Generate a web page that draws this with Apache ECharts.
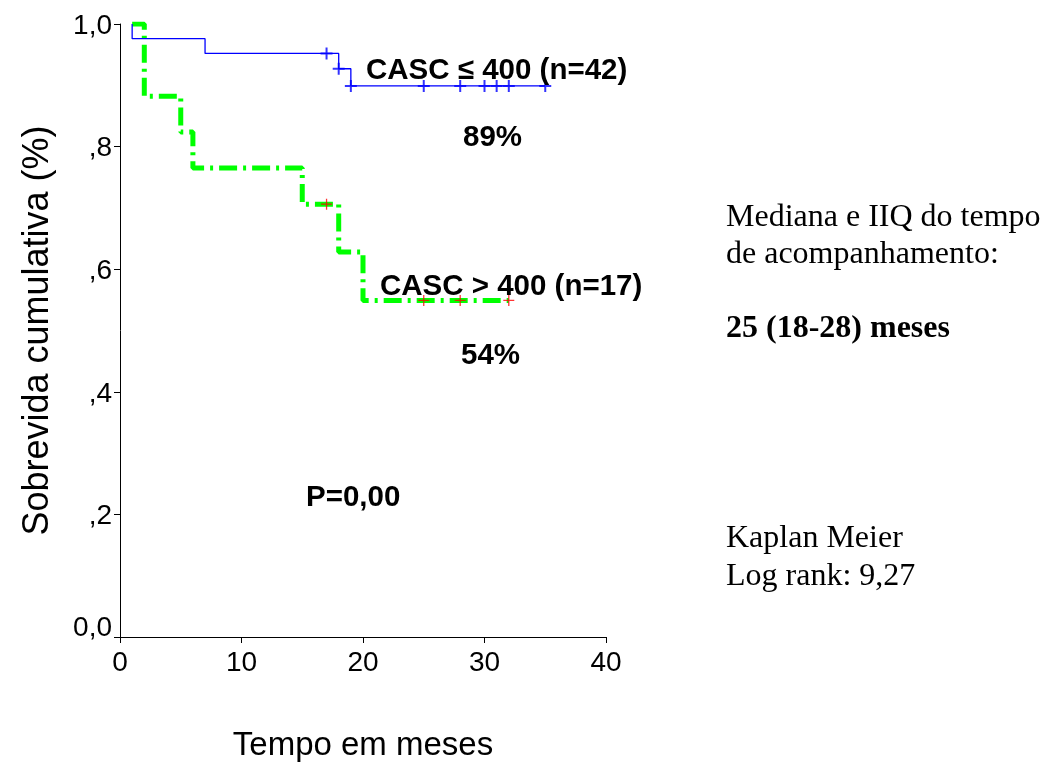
<!DOCTYPE html>
<html>
<head>
<meta charset="utf-8">
<script src="https://cdn.jsdelivr.net/npm/echarts@6/dist/echarts.min.js"></script>
<style>
html,body{margin:0;padding:0;background:#fff;}
#chart{width:1061px;height:767px;}
</style>
</head>
<body>
<div id="chart"></div>
<script>
// ---- data ----
const blueTimes = [1, 1, 7, 18, 19, 35];
const blueSurv  = [1.0, 0.976, 0.952, 0.927, 0.899, 0.899];
const blueCensTimes = [17, 18, 19, 25, 28, 30, 31, 32, 35];
const blueCensSurv  = [0.952, 0.927, 0.899, 0.899, 0.899, 0.899, 0.899, 0.899, 0.899];

const greenTimes = [1, 2, 5, 6, 15, 18, 20, 32];
const greenSurv  = [1.0, 0.882, 0.824, 0.765, 0.706, 0.628, 0.549, 0.549];
const greenCensTimes = [17, 25, 28, 32];
const greenCensSurv  = [0.706, 0.549, 0.549, 0.549];

const xTicks = [0, 10, 20, 30, 40];
const yTickLabels = {0: '0,0', 2: ',2', 4: ',4', 6: ',6', 8: ',8', 10: '1,0'};

const labelBlue = 'CASC ≤ 400 (n=42)';
const labelGreen = 'CASC > 400 (n=17)';
const pctBlue = '89%';
const pctGreen = '54%';
const pText = 'P=0,00';
const sideTexts = ['Mediana e IIQ do tempo', 'de acompanhamento:', '25 (18-28) meses', 'Kaplan Meier', 'Log rank: 9,27'];

const pairs = (t, s) => t.map((v, i) => [v, s[i]]);

const plusThick = 'path://M5,0 H7 V5 H12 V7 H7 V12 H5 V7 H0 V5 H5 Z';
const plusThin  = 'path://M5.3,0 H6.7 V5.3 H12 V6.7 H6.7 V12 H5.3 V6.7 H0 V5.3 H5.3 Z';

const chart = echarts.init(document.getElementById('chart'), null, {renderer: 'canvas'});

const arialBold = {fontFamily: 'Liberation Sans, Arial, sans-serif', fontWeight: 'bold', fontSize: 29.5, fill: '#000'};
const serif = {fontFamily: 'Liberation Serif, Times New Roman, serif', fontSize: 32, fill: '#000'};

chart.setOption({
  animation: false,
  backgroundColor: '#fff',
  grid: {left: 120, right: 455, top: 24, bottom: 129, containLabel: false},
  xAxis: {
    type: 'value', min: 0, max: 40, interval: 10,
    name: 'Tempo em meses', nameLocation: 'middle', nameGap: 92,
    nameTextStyle: {fontFamily: 'Liberation Sans, Arial, sans-serif', fontSize: 33, color: '#000'},
    axisLine: {show: true, lineStyle: {color: '#000', width: 1}},
    axisTick: {show: true, length: 6, lineStyle: {color: '#000'}},
    axisLabel: {fontFamily: 'Liberation Sans, Arial, sans-serif', fontSize: 28, color: '#000', margin: 12,
      formatter: v => xTicks.includes(v) ? String(v) : ''},
    splitLine: {show: false}
  },
  yAxis: {
    type: 'value', min: 0, max: 1, interval: 0.2,
    name: 'Sobrevida cumulativa (%)', nameLocation: 'middle', nameGap: 64, nameRotate: 90,
    nameTextStyle: {fontFamily: 'Liberation Sans, Arial, sans-serif', fontSize: 36, color: '#000'},
    axisLine: {show: true, lineStyle: {color: '#000', width: 1}},
    axisTick: {show: true, length: 6, lineStyle: {color: '#000'}},
    axisLabel: {fontFamily: 'Liberation Sans, Arial, sans-serif', fontSize: 28, color: '#000', margin: 8,
      formatter: v => {
        const k = Math.round(v * 10);
        return k === 0 ? '{z|' + yTickLabels[0] + '}' : '{n|' + yTickLabels[k] + '}';
      },
      rich: {
        z: {fontFamily: 'Liberation Sans, Arial, sans-serif', fontSize: 28, color: '#000', padding: [0, 0, 18, 0]},
        n: {fontFamily: 'Liberation Sans, Arial, sans-serif', fontSize: 28, color: '#000', padding: [4, 0, 0, 0]}
      }
    },
    splitLine: {show: false}
  },
  series: [
    {
      type: 'line', step: 'end', data: pairs(greenTimes, greenSurv), symbol: 'none', z: 2,
      lineStyle: {color: '#00ff00', width: 5, type: [18, 6, 3, 6], cap: 'butt'}
    },
    {
      type: 'line', step: 'end', data: pairs(blueTimes, blueSurv), symbol: 'none', z: 3,
      lineStyle: {color: '#0000ff', width: 1.3}
    },
    {
      type: 'scatter', data: pairs(greenCensTimes, greenCensSurv), symbol: plusThin, symbolSize: 11, z: 4,
      itemStyle: {color: '#ff0000'}
    },
    {
      type: 'scatter', data: pairs(blueCensTimes, blueCensSurv), symbol: plusThick, symbolSize: 12, z: 5,
      itemStyle: {color: '#0000ff'}
    }
  ],
  graphic: [
    {type: 'text', left: 366, top: 56, z: 10, style: Object.assign({text: labelBlue}, arialBold)},
    {type: 'text', left: 463, top: 123, z: 10, style: Object.assign({text: pctBlue}, arialBold)},
    {type: 'text', left: 380, top: 272, z: 10, style: Object.assign({text: labelGreen}, arialBold)},
    {type: 'text', left: 461, top: 341, z: 10, style: Object.assign({text: pctGreen}, arialBold)},
    {type: 'text', left: 306, top: 483, z: 10, style: Object.assign({text: pText}, arialBold)},
    {type: 'text', left: 726, top: 202, style: Object.assign({text: sideTexts[0]}, serif)},
    {type: 'text', left: 726, top: 239, style: Object.assign({text: sideTexts[1]}, serif)},
    {type: 'text', left: 726, top: 313, style: Object.assign({}, serif, {text: sideTexts[2], fontWeight: 'bold'})},
    {type: 'text', left: 726, top: 523, style: Object.assign({text: sideTexts[3]}, serif)},
    {type: 'text', left: 726, top: 561, style: Object.assign({text: sideTexts[4]}, serif)}
  ]
});
</script>
</body>
</html>
